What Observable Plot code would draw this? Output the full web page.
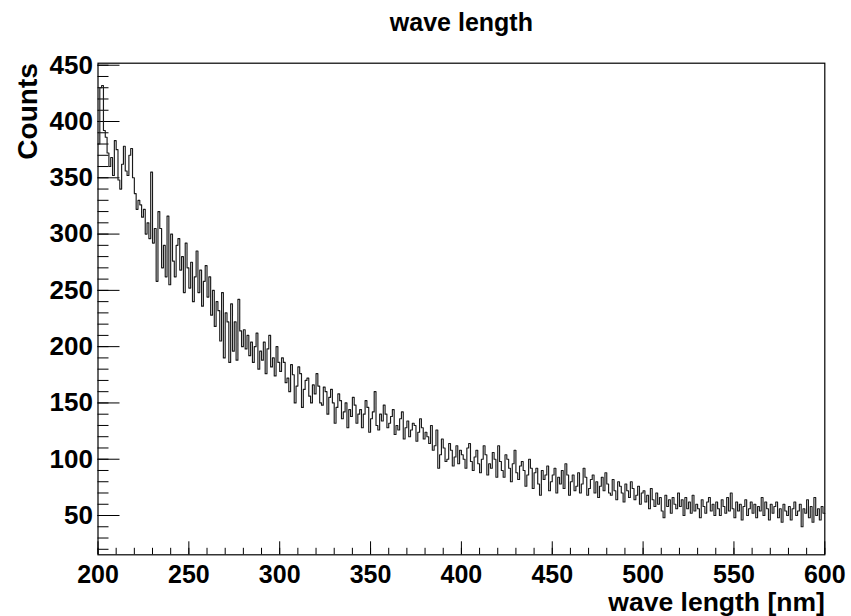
<!DOCTYPE html>
<html>
<head>
<meta charset="utf-8">
<script src="https://cdn.jsdelivr.net/npm/d3@7"></script>
<script src="https://cdn.jsdelivr.net/npm/@observablehq/plot@0.6"></script>
<style>
  html, body { margin: 0; padding: 0; background: #fff; }
</style>
</head>
<body>
<div id="chart"></div>
<script>
// Histogram: 1 nm bins from 200 to 600 nm
const xStart = 200;
const binWidth = 1;
const counts = [
  380, 430, 432, 392, 386, 372, 360, 368, 352, 383, 375, 348, 340, 362, 378, 356, 352, 370, 376, 350,
  336, 322, 330, 326, 315, 322, 300, 310, 296, 355, 292, 305, 258, 320, 305, 270, 290, 262, 316, 255,
  300, 276, 262, 290, 296, 268, 280, 248, 292, 270, 252, 275, 240, 262, 285, 248, 268, 236, 258, 272,
  244, 262, 228, 250, 218, 240, 232, 205, 248, 190, 230, 222, 186, 238, 196, 222, 188, 242, 214, 200,
  215, 198, 210, 192, 204, 186, 200, 212, 180, 196, 188, 204, 176, 198, 210, 182, 190, 174, 200, 186,
  178, 190, 186, 168, 172, 160, 184, 175, 150, 165, 182, 176, 146, 162, 170, 172, 156, 150, 166, 158,
  176, 165, 150, 148, 164, 160, 140, 155, 162, 150, 132, 146, 158, 152, 136, 142, 150, 128, 144, 138,
  155, 148, 132, 140, 144, 128, 140, 152, 146, 124, 136, 142, 160, 130, 126, 140, 134, 148, 140, 128,
  132, 138, 144, 122, 130, 126, 136, 142, 118, 128, 134, 120, 126, 132, 130, 116, 124, 136, 128, 118,
  124, 120, 114, 130, 108, 112, 126, 92, 104, 118, 110, 98, 100, 114, 108, 94, 102, 112, 96, 108,
  104, 100, 92, 110, 114, 98, 90, 102, 108, 96, 88, 100, 112, 104, 86, 96, 92, 106, 100, 84,
  112, 98, 90, 84, 104, 100, 92, 80, 96, 108, 88, 82, 94, 98, 90, 76, 86, 100, 92, 74,
  88, 92, 78, 68, 90, 82, 86, 94, 72, 80, 86, 92, 70, 84, 78, 90, 74, 96, 86, 68,
  80, 86, 72, 76, 88, 70, 78, 92, 84, 68, 74, 82, 86, 70, 80, 66, 76, 84, 72, 88,
  78, 70, 68, 82, 72, 64, 80, 76, 70, 62, 78, 72, 66, 80, 74, 64, 68, 76, 60, 70,
  72, 62, 68, 56, 74, 64, 58, 70, 60, 66, 54, 48, 68, 58, 64, 52, 66, 60, 56, 70,
  58, 64, 50, 66, 56, 62, 52, 68, 54, 60, 56, 48, 64, 58, 52, 62, 66, 54, 60, 50,
  62, 56, 50, 64, 58, 52, 66, 54, 70, 56, 48, 62, 54, 60, 46, 58, 64, 50, 56, 62,
  52, 60, 48, 58, 54, 66, 50, 62, 56, 46, 60, 52, 58, 62, 48, 56, 44, 60, 54, 50,
  58, 46, 56, 62, 50, 54, 60, 40, 56, 52, 64, 48, 58, 44, 66, 50, 56, 46, 58, 52
];
const xMajorTicks = [200, 250, 300, 350, 400, 450, 500, 550, 600];
const xMinorTicks = d3.range(200, 601, 10);
const yMajorTicks = [50, 100, 150, 200, 250, 300, 350, 400, 450];
const yMinorTicks = d3.range(20, 451, 10);
const xDomain = [200, 600];
const yDomain = [15.1, 451.8];
const titleText = "wave length";
const xLabel = "wave length [nm]";
const yLabel = "Counts";

// step outline points (left edges + closing right edge)
const steps = counts.map((c, i) => ({x: xStart + i * binWidth, y: c}));
steps.push({x: xStart + counts.length * binWidth, y: counts[counts.length - 1]});

const W = 851, H = 616;
const mL = 97.5, mR = 26.7, mT = 62.7, mB = 61.7;
const frameW = W - mL - mR, frameH = H - mT - mB;
const font = "'Liberation Sans', Arial, Helvetica, sans-serif";

const chart = Plot.plot({
  width: W,
  height: H,
  marginLeft: mL,
  marginRight: mR,
  marginTop: mT,
  marginBottom: mB,
  style: {fontFamily: font, background: "#fff", color: "#000", overflow: "visible"},
  x: {domain: xDomain, axis: null},
  y: {domain: yDomain, axis: null},
  marks: [
    // ticks pointing inward (ROOT style)
    Plot.tickX(xMinorTicks, {x: d => d, insetTop: frameH - 6.5, stroke: "#000", strokeWidth: 1}),
    Plot.tickX(xMajorTicks, {x: d => d, insetTop: frameH - 13, stroke: "#000", strokeWidth: 1}),
    Plot.tickY(yMinorTicks, {y: d => d, insetRight: frameW - 11, stroke: "#000", strokeWidth: 1}),
    Plot.tickY(yMajorTicks, {y: d => d, insetRight: frameW - 22, stroke: "#000", strokeWidth: 1}),
    // histogram outline
    Plot.line(steps, {x: "x", y: "y", curve: "step-after", stroke: "#1a1a1a", strokeWidth: 1.15}),
    Plot.frame({stroke: "#000", strokeWidth: 1.2}),
    // tick labels
    Plot.text(yMajorTicks, {y: d => d, text: d => String(d), frameAnchor: "left", dx: -5, textAnchor: "end",
      fontSize: 26, fontWeight: "bold", fill: "#000"}),
    Plot.text(xMajorTicks, {x: d => d, text: d => String(d), frameAnchor: "bottom", dy: 20, lineAnchor: "middle",
      fontSize: 25, fontWeight: "bold", fill: "#000"}),
    // axis titles
    Plot.text([xLabel], {text: d => d, frameAnchor: "bottom-right", dy: 47.5, lineAnchor: "middle", textAnchor: "end",
      fontSize: 26.5, fontWeight: "bold", fill: "#000"}),
    Plot.text([yLabel], {text: d => d, frameAnchor: "top-left", dx: -61, rotate: -90, lineAnchor: "bottom", textAnchor: "end",
      fontSize: 28, fontWeight: "bold", fill: "#000"}),
    // title
    Plot.text([titleText], {text: d => d, frameAnchor: "top", dy: -32.7, lineAnchor: "bottom",
      fontSize: 25, fontWeight: "bold", fill: "#000"})
  ]
});
document.getElementById("chart").appendChild(chart);
</script>
</body>
</html>
